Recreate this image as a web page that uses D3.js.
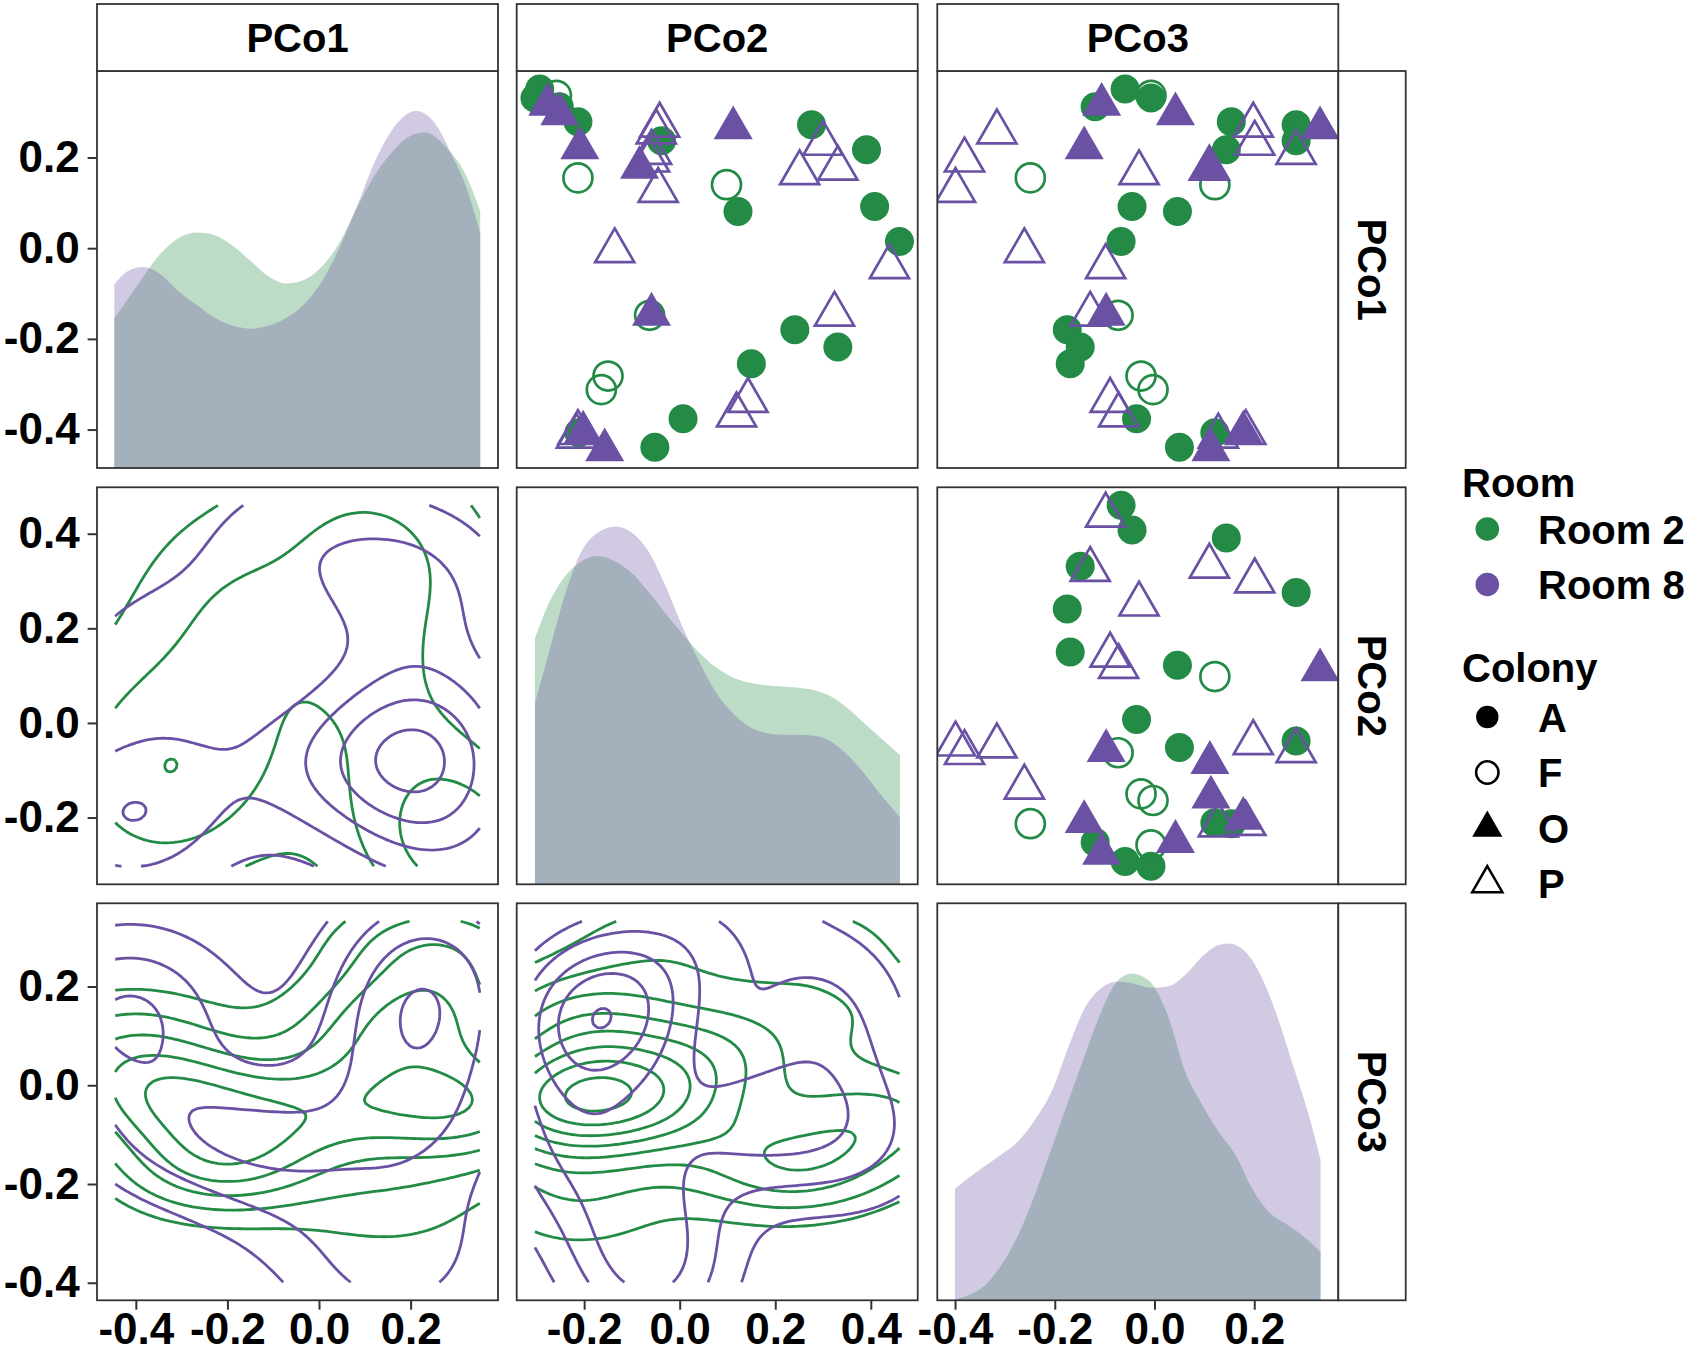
<!DOCTYPE html>
<html>
<head>
<meta charset="utf-8">
<script src="https://cdn.jsdelivr.net/npm/d3@7"></script>
<style>
  body { margin: 0; background: #fff; }
  svg { display: block; }
  text { font-family: "Liberation Sans", Arial, Helvetica, sans-serif; font-weight: bold; fill: #000; }
</style>
</head>
<body>
<div id="chart"></div>
<script>
// ---- data: one entry per sample ----
const vars = ["PCo1", "PCo2", "PCo3"];
const pco1 = [0.312, 0.351, 0.331, 0.279, 0.217, 0.272, 0.237, 0.092, 0.081, 0.015, -0.180, -0.218, -0.255, -0.376, -0.439, -0.407,
              0.155, 0.140, -0.148, -0.282, -0.312, 0.337,
              0.317, 0.296, 0.221, 0.178, 0.265, -0.146, -0.406, -0.445,
              0.256, 0.194, 0.127, 0.271, 0.231, 0.211, 0.166, -0.006, -0.041, -0.146, -0.336, -0.368, -0.415, -0.407, 0.176];
const pco2 = [-0.252, -0.293, -0.303, -0.213, 0.391, 0.276, -0.038, 0.408, 0.122, 0.460, 0.241, 0.331, 0.150, 0.007, -0.052, -0.211,
              -0.213, 0.098, -0.063, -0.150, -0.164, -0.258,
              -0.276, -0.251, -0.209, -0.084, 0.112, -0.059, -0.202, -0.157,
              -0.049, -0.063, -0.045, -0.042, 0.300, -0.059, 0.251, -0.136, 0.439, 0.324, 0.143, 0.119, -0.216, -0.213, 0.331];
const pco3 = [-0.119, -0.059, -0.007, 0.154, 0.144, 0.284, 0.284, -0.045, 0.046, -0.067, -0.175, -0.149, -0.169, -0.036, 0.050, 0.121,
              -0.249, 0.121, -0.073, -0.027, -0.003, -0.007,
              -0.106, 0.042, -0.141, 0.111, 0.332, -0.097, 0.178, 0.113,
              -0.316, -0.381, -0.399, 0.198, 0.201, 0.284, -0.031, -0.261, -0.098, -0.129, -0.089, -0.072, 0.128, 0.183, 0.110];
const room = [].concat(Array(22).fill("Room 2"), Array(23).fill("Room 8"));
const colony = [].concat(Array(16).fill("A"), Array(6).fill("F"), Array(8).fill("O"), Array(15).fill("P"));

// diagonal densities per room: [value, relative density]
const densPCo1Room2 = [[-0.447, 0.377], [-0.416, 0.428], [-0.385, 0.480], [-0.346, 0.540], [-0.307, 0.579], [-0.268, 0.593],
  [-0.229, 0.587], [-0.190, 0.561], [-0.151, 0.523], [-0.112, 0.484], [-0.073, 0.465], [-0.034, 0.473], [0.005, 0.506],
  [0.044, 0.566], [0.083, 0.656], [0.122, 0.738], [0.161, 0.798], [0.200, 0.837], [0.231, 0.845], [0.278, 0.807],
  [0.317, 0.746], [0.352, 0.647]];
const densPCo1Room8 = [[-0.447, 0.463], [-0.416, 0.497], [-0.385, 0.506], [-0.346, 0.488], [-0.307, 0.445], [-0.268, 0.411],
  [-0.229, 0.379], [-0.190, 0.359], [-0.147, 0.351], [-0.112, 0.358], [-0.073, 0.377], [-0.034, 0.411], [0.005, 0.467],
  [0.044, 0.553], [0.083, 0.660], [0.122, 0.772], [0.161, 0.854], [0.212, 0.899], [0.254, 0.867], [0.293, 0.781],
  [0.317, 0.721], [0.352, 0.592]];
const densPCo2Room2 = [[-0.303, 0.620], [-0.275, 0.705], [-0.240, 0.776], [-0.205, 0.814], [-0.171, 0.827], [-0.136, 0.814],
  [-0.101, 0.785], [-0.066, 0.738], [-0.031, 0.684], [0.004, 0.633], [0.039, 0.586], [0.073, 0.549], [0.108, 0.523],
  [0.143, 0.509], [0.178, 0.502], [0.213, 0.498], [0.248, 0.495], [0.282, 0.489], [0.317, 0.473], [0.352, 0.443],
  [0.387, 0.405], [0.422, 0.367], [0.461, 0.325]];
const densPCo2Room8 = [[-0.303, 0.456], [-0.275, 0.578], [-0.240, 0.730], [-0.205, 0.840], [-0.171, 0.886], [-0.132, 0.901],
  [-0.101, 0.886], [-0.066, 0.840], [-0.031, 0.755], [0.004, 0.654], [0.039, 0.565], [0.073, 0.489], [0.108, 0.435],
  [0.143, 0.399], [0.178, 0.382], [0.213, 0.377], [0.248, 0.377], [0.282, 0.374], [0.317, 0.359], [0.352, 0.325],
  [0.387, 0.278], [0.422, 0.224], [0.461, 0.169]];
const densPCo3Room2 = [[-0.400, 0.002], [-0.373, 0.013], [-0.340, 0.038], [-0.307, 0.089], [-0.273, 0.165], [-0.240, 0.266],
  [-0.206, 0.384], [-0.173, 0.502], [-0.139, 0.620], [-0.106, 0.730], [-0.073, 0.806], [-0.046, 0.823], [-0.012, 0.806],
  [0.028, 0.713], [0.061, 0.578], [0.095, 0.494], [0.128, 0.426], [0.162, 0.367], [0.195, 0.283], [0.228, 0.224],
  [0.262, 0.194], [0.295, 0.165], [0.333, 0.122]];
const densPCo3Room8 = [[-0.400, 0.281], [-0.373, 0.308], [-0.340, 0.338], [-0.307, 0.367], [-0.273, 0.401], [-0.240, 0.454],
  [-0.206, 0.527], [-0.173, 0.637], [-0.139, 0.738], [-0.106, 0.787], [-0.073, 0.803], [-0.039, 0.797], [-0.006, 0.787],
  [0.028, 0.791], [0.061, 0.819], [0.095, 0.865], [0.128, 0.895], [0.148, 0.899], [0.175, 0.886], [0.208, 0.831],
  [0.242, 0.730], [0.275, 0.603], [0.309, 0.468], [0.333, 0.354]];
const diagDensities = [[densPCo1Room2, densPCo1Room8], [densPCo2Room2, densPCo2Room8], [densPCo3Room2, densPCo3Room8]];

const rooms = ["Room 2", "Room 8"];
const colonies = ["A", "F", "O", "P"];
const roomColors = ["#238B45", "#6A51A3"];
const tickValues = [[-0.4, -0.2, 0, 0.2], [-0.2, 0, 0.2, 0.4], [-0.4, -0.2, 0, 0.2]];

// ---- layout ----
const W = 1692, H = 1353;
const colX = [97, 516.7, 937.3];
const rowY = [71, 487.3, 903.3];
const panelW = 401, panelH = 397;
const stripH = 67, stripW = 67.4;
const border = "#333";

const samples = pco1.map((d, i) => ({ v: [pco1[i], pco2[i], pco3[i]], room: room[i], colony: colony[i] }));
const color = d3.scaleOrdinal().domain(rooms).range(roomColors);
const filledShape = { A: true, F: false, O: true, P: false };
const triShape = { A: false, F: false, O: true, P: true };

const ext = [0, 1, 2].map(k => d3.extent(samples, d => d.v[k]));
const expand = e => { const p = (e[1] - e[0]) * 0.05; return [e[0] - p, e[1] + p]; };
const xs = [0, 1, 2].map(k => d3.scaleLinear().domain(expand(ext[k])).range([colX[k], colX[k] + panelW]));
const ys = [0, 1, 2].map(k => d3.scaleLinear().domain(expand(ext[k])).range([rowY[k] + panelH, rowY[k]]));

const svg = d3.select("#chart").append("svg").attr("width", W).attr("height", H);
const defs = svg.append("defs");

// R style point shapes (pch 16 / 1 / 17 / 2)
function shapePath(tri, R) {
  const p = d3.path();
  if (tri) {
    const r = 1.5551 * R, yc = 0.7776 * R, xc = 1.3468 * R;
    p.moveTo(0, -r); p.lineTo(xc, yc); p.lineTo(-xc, yc); p.closePath();
  } else {
    p.arc(0, 0, R, 0, 2 * Math.PI);
  }
  return p.toString();
}

// ---- 2d density (MASS::kde2d style) ----
const N = 100;
const dnorm = u => Math.exp(-0.5 * u * u) / Math.sqrt(2 * Math.PI);
function bwNrd(x) {
  const iqr = d3.quantile(x, 0.75) - d3.quantile(x, 0.25);
  return 4 * 1.06 * Math.min(d3.deviation(x), iqr / 1.34) * Math.pow(x.length, -0.2);
}
function kde2d(xv, yv, xr, yr, n) {
  const hx = bwNrd(xv) / 4, hy = bwNrd(yv) / 4;
  const gx = d3.range(n).map(i => xr[0] + i * (xr[1] - xr[0]) / (n - 1));
  const gy = d3.range(n).map(j => yr[0] + j * (yr[1] - yr[0]) / (n - 1));
  const ax = gx.map(g => xv.map(v => dnorm((g - v) / hx)));
  const ay = gy.map(g => yv.map(v => dnorm((g - v) / hy)));
  const z = new Float64Array(n * n);
  for (let j = 0; j < n; j++) {
    for (let i = 0; i < n; i++) {
      let s = 0;
      for (let k = 0; k < xv.length; k++) s += ax[i][k] * ay[j][k];
      z[j * n + i] = s / (xv.length * hx * hy);
    }
  }
  return z;
}
// turn d3 contour rings into open isolines, dropping the parts that run along the grid edge
function ringsToLines(multi, n) {
  const lines = [];
  const onEdge = p => p[0] <= 1e-9 || p[0] >= n - 1e-9 || p[1] <= 1e-9 || p[1] >= n - 1e-9;
  multi.coordinates.forEach(poly => poly.forEach(ring => {
    const pts = ring.slice();
    const f = pts[0], l = pts[pts.length - 1];
    if (f[0] === l[0] && f[1] === l[1]) pts.pop();
    const m = pts.length;
    const edge = pts.map(onEdge);
    const bi = edge.indexOf(true);
    if (bi < 0) { lines.push(pts.concat([pts[0]])); return; }
    let cur = [];
    for (let s = 1; s <= m; s++) {
      const k = (bi + s) % m;
      if (edge[k]) { if (cur.length > 1) lines.push(cur); cur = []; }
      else cur.push(pts[k]);
    }
    if (cur.length > 1) lines.push(cur);
  }));
  return lines;
}

// densities for every lower panel first, so all panels share one set of contour breaks
const lowerPanels = [[1, 0], [2, 0], [2, 1]].map(([i, j]) => ({
  i, j,
  grids: rooms.map(r => {
    const sub = samples.filter(d => d.room === r);
    return kde2d(sub.map(d => d.v[j]), sub.map(d => d.v[i]), ext[j], ext[i], N);
  })
}));
const zMax = d3.max(lowerPanels, p => d3.max(p.grids, z => d3.max(z)));
const levels = d3.ticks(0, zMax, 10).filter(t => t > 0 && t < zMax);

// ---- panels ----
for (let i = 0; i < 3; i++) {
  for (let j = 0; j < 3; j++) {
    const x0 = colX[j], y0 = rowY[i];
    const clipId = `clip-${i}-${j}`;
    defs.append("clipPath").attr("id", clipId)
      .append("rect").attr("x", x0).attr("y", y0).attr("width", panelW).attr("height", panelH);
    const g = svg.append("g").attr("clip-path", `url(#${clipId})`);

    if (i === j) {
      // diagonal: density of each room
      const yd = d3.scaleLinear().domain([0, 1]).range([y0 + panelH, y0]);
      const area = d3.area().x(d => xs[i](d[0])).y0(yd(0)).y1(d => yd(d[1])).curve(d3.curveMonotoneX);
      g.selectAll("path.dens").data(diagDensities[i]).join("path")
        .attr("class", "dens")
        .attr("d", area)
        .attr("fill", (d, k) => roomColors[k])
        .attr("fill-opacity", 0.3);
    } else if (i < j) {
      // upper: scatter, x = var j, y = var i
      g.selectAll("path.pt").data(samples).join("path")
        .attr("class", "pt")
        .attr("transform", d => `translate(${xs[j](d.v[j])},${ys[i](d.v[i])})`)
        .attr("d", d => shapePath(triShape[d.colony], 14.5))
        .attr("fill", d => filledShape[d.colony] ? color(d.room) : "none")
        .attr("stroke", d => filledShape[d.colony] ? "none" : color(d.room))
        .attr("stroke-width", 2.7);
    } else {
      // lower: 2d density contours per room, x = var j, y = var i
      const panel = lowerPanels.find(p => p.i === i && p.j === j);
      const xr = ext[j], yr = ext[i];
      const toX = c => xs[j](xr[0] + (c - 0.5) * (xr[1] - xr[0]) / (N - 1));
      const toY = c => ys[i](yr[0] + (c - 0.5) * (yr[1] - yr[0]) / (N - 1));
      const line = d3.line().x(p => toX(p[0])).y(p => toY(p[1]));
      panel.grids.forEach((z, k) => {
        const cs = d3.contours().size([N, N]).thresholds(levels)(Array.from(z));
        const lines = cs.flatMap(c => ringsToLines(c, N));
        g.append("g").selectAll("path").data(lines).join("path")
          .attr("d", line)
          .attr("fill", "none")
          .attr("stroke", roomColors[k])
          .attr("stroke-width", 2.8)
          .attr("stroke-linejoin", "round");
      });
    }

    svg.append("rect").attr("x", x0).attr("y", y0).attr("width", panelW).attr("height", panelH)
      .attr("fill", "none").attr("stroke", border).attr("stroke-width", 1.8);
  }
}

// ---- strips ----
vars.forEach((v, k) => {
  svg.append("rect").attr("x", colX[k]).attr("y", rowY[0] - stripH).attr("width", panelW).attr("height", stripH)
    .attr("fill", "#fff").attr("stroke", border).attr("stroke-width", 1.8);
  svg.append("text").attr("x", colX[k] + panelW / 2).attr("y", rowY[0] - stripH / 2)
    .attr("dy", "0.36em").attr("text-anchor", "middle").style("font-size", "40px").text(v);

  const sx = colX[2] + panelW;
  svg.append("rect").attr("x", sx).attr("y", rowY[k]).attr("width", stripW).attr("height", panelH)
    .attr("fill", "#fff").attr("stroke", border).attr("stroke-width", 1.8);
  svg.append("text")
    .attr("transform", `translate(${sx + stripW / 2},${rowY[k] + panelH / 2}) rotate(90)`)
    .attr("dy", "0.36em").attr("text-anchor", "middle").style("font-size", "40px").text(v);
});

// ---- axes ----
const fmt = d => d.toFixed(1);
function styleAxis(sel) {
  sel.select(".domain").remove();
  sel.selectAll(".tick line").attr("stroke", border).attr("stroke-width", 2);
  sel.selectAll(".tick text").attr("fill", "#000")
    .style("font-size", "44px").style("font-family", "'Liberation Sans', Arial, sans-serif").style("font-weight", "bold");
}
[0, 1, 2].forEach(k => {
  svg.append("g").attr("transform", `translate(${colX[0]},0)`)
    .call(d3.axisLeft(ys[k]).tickValues(tickValues[k]).tickSize(9.4).tickPadding(8).tickFormat(fmt))
    .call(styleAxis);
  svg.append("g").attr("transform", `translate(0,${rowY[2] + panelH})`)
    .call(d3.axisBottom(xs[k]).tickValues(tickValues[k]).tickSize(9.4).tickPadding(3).tickFormat(fmt))
    .call(styleAxis);
});

// ---- legends ----
const legX = 1462, keyX = 1487.3, labX = 1538;
const leg = svg.append("g");
leg.append("text").attr("x", legX).attr("y", 497).style("font-size", "40px").text("Room");
rooms.forEach((r, k) => {
  const cy = 529 + k * 55.5;
  leg.append("path").attr("transform", `translate(${keyX},${cy})`)
    .attr("d", shapePath(false, 11.8)).attr("fill", color(r));
  leg.append("text").attr("x", labX).attr("y", cy + 14.5).style("font-size", "40px").text(r);
});
leg.append("text").attr("x", legX).attr("y", 682).style("font-size", "40px").text("Colony");
colonies.forEach((c, k) => {
  const cy = 717 + k * 55.5;
  leg.append("path").attr("transform", `translate(${keyX},${cy})`)
    .attr("d", shapePath(triShape[c], 11.2))
    .attr("fill", filledShape[c] ? "#000" : "none")
    .attr("stroke", filledShape[c] ? "none" : "#000")
    .attr("stroke-width", 2.5);
  leg.append("text").attr("x", labX).attr("y", cy + 14.5).style("font-size", "40px").text(c);
});
</script>
</body>
</html>
